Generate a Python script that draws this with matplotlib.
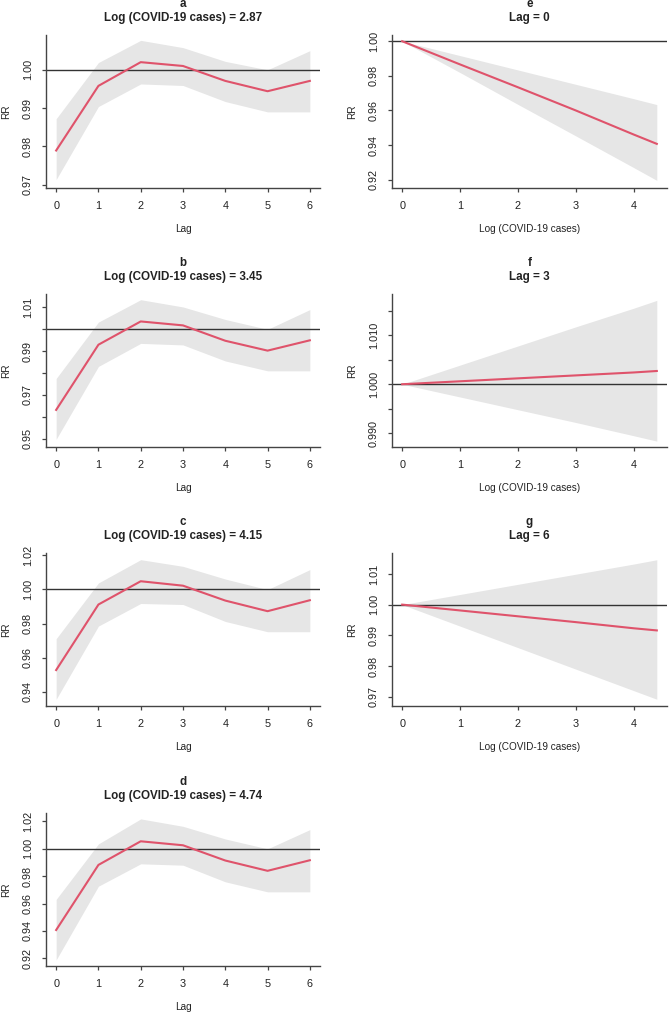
import matplotlib
matplotlib.use("Agg")
from matplotlib import pyplot as plt
import numpy as np

plt.rcParams['font.family'] = ['Liberation Sans', 'DejaVu Sans']

# ---- lag-response panels (a-d) ----
lags = [0, 1, 2, 3, 4, 5, 6]

rr_a = [0.9789, 0.9958, 1.0020, 1.0010, 0.9971, 0.9944, 0.9971]
hi_a = [0.9872, 1.0019, 1.0077, 1.0058, 1.0022, 1.0000, 1.0050]
lo_a = [0.9713, 0.9904, 0.9963, 0.9959, 0.9917, 0.9890, 0.9890]

rr_b = [0.9632, 0.9929, 1.0035, 1.0017, 0.9947, 0.9902, 0.9949]
hi_b = [0.9775, 1.0032, 1.0134, 1.0101, 1.0044, 0.9999, 1.0089]
lo_b = [0.9498, 0.9830, 0.9935, 0.9928, 0.9855, 0.9810, 0.9810]

rr_c = [0.9528, 0.9911, 1.0047, 1.0021, 0.9934, 0.9872, 0.9936]
hi_c = [0.9711, 1.0037, 1.0173, 1.0134, 1.0060, 0.9998, 1.0115]
lo_c = [0.9357, 0.9785, 0.9917, 0.9911, 0.9812, 0.9752, 0.9752]

rr_d = [0.9407, 0.9881, 1.0053, 1.0024, 0.9913, 0.9838, 0.9915]
hi_d = [0.9630, 1.0034, 1.0216, 1.0162, 1.0070, 0.9998, 1.0138]
lo_d = [0.9189, 0.9726, 0.9889, 0.9879, 0.9758, 0.9685, 0.9685]

# ---- exposure-response panels (e-g) ----
logcases = [0, 1, 2, 3, 4, 4.4]

rr_e = [1.0, 0.9866, 0.9734, 0.9600, 0.9461, 0.9407]
hi_e = [1.0, 0.9917, 0.9834, 0.9751, 0.9668, 0.9634]
lo_e = [1.0, 0.9819, 0.9635, 0.9453, 0.9270, 0.9196]

rr_f = [1.0, 1.0006, 1.0012, 1.0018, 1.0024, 1.0027]
hi_f = [1.0, 1.0039, 1.0078, 1.0117, 1.0155, 1.0171]
lo_f = [1.0, 0.9974, 0.9948, 0.9922, 0.9895, 0.9884]

rr_g = [1.0, 0.9981, 0.9962, 0.9943, 0.9923, 0.9916]
hi_g = [1.0, 1.0033, 1.0066, 1.0099, 1.0132, 1.0146]
lo_g = [1.0, 0.9930, 0.9860, 0.9790, 0.9720, 0.9692]

W, H = 670, 1015
LineCol = '#DF536B'
BandCol = '#E6E6E6'
AxCol = '#444444'
TxtCol = '#222222'

fig = plt.figure(figsize=(W/100, H/100), dpi=100)


def MakePanel(left, top, width, height, x, rr, lo, hi, letter, subtitle,
              xlabel, xlim, ylim, yticks, ylabels, xticks):
    ax = fig.add_axes([left/W, 1-(top+height)/H, width/W, height/H])
    ax.fill_between(x, lo, hi, color=BandCol, lw=0)
    ax.axhline(1.0, color='#333333', lw=1.0)
    ax.plot(x, rr, color=LineCol, lw=1.5)
    ax.set_xlim(*xlim)
    ax.set_ylim(*ylim)
    for s in ['top', 'right']:
        ax.spines[s].set_visible(False)
    for s in ['left', 'bottom']:
        ax.spines[s].set_color(AxCol)
        ax.spines[s].set_linewidth(1.0)
    ax.set_xticks(xticks)
    ax.set_yticks(yticks)
    ax.set_yticklabels(ylabels, rotation=90, va='center')
    ax.tick_params(direction='out', length=3, width=0.9, color=AxCol,
                   labelsize=7.8, labelcolor=TxtCol, pad=6.5)
    ax.set_xlabel(xlabel, fontsize=7.2, color=TxtCol)
    ax.set_ylabel('RR', fontsize=7.2, color=TxtCol)
    ax.xaxis.set_label_coords(0.5, -41/height)
    ax.xaxis.label.set_va('center')
    ax.yaxis.set_label_coords(-40/width, 0.5)
    ax.yaxis.label.set_va('center')
    ax.annotate(letter, xy=(0.5, 1), xycoords='axes fraction', xytext=(0, 31),
                textcoords='offset pixels', ha='center', va='center',
                fontsize=8.4, fontweight='bold', color=TxtCol)
    ax.annotate(subtitle, xy=(0.5, 1), xycoords='axes fraction', xytext=(0, 17),
                textcoords='offset pixels', ha='center', va='center',
                fontsize=8.4, fontweight='bold', color=TxtCol)
    return ax


LagLim = (-0.24, 6.24)
CaseLim = (-0.176, 4.576)
LeftX, RightX = 46, 392
LeftW, RightW = 274, 275
Tops = [35, 294, 553, 813]
PH = 153

MakePanel(LeftX, Tops[0], LeftW, PH, lags, rr_a, lo_a, hi_a, 'a',
          'Log (COVID-19 cases) = 2.87', 'Lag', LagLim, (0.9691, 1.0091),
          [0.97, 0.98, 0.99, 1.00], ['0.97', '0.98', '0.99', '1.00'], lags)
MakePanel(LeftX, Tops[1], LeftW, PH, lags, rr_b, lo_b, hi_b, 'b',
          'Log (COVID-19 cases) = 3.45', 'Lag', LagLim, (0.9463, 1.0160),
          [0.95, 0.96, 0.97, 0.98, 0.99, 1.00, 1.01],
          ['0.95', '', '0.97', '', '0.99', '', '1.01'], lags)
MakePanel(LeftX, Tops[2], LeftW, PH, lags, rr_c, lo_c, hi_c, 'c',
          'Log (COVID-19 cases) = 4.15', 'Lag', LagLim, (0.9318, 1.0212),
          [0.94, 0.96, 0.98, 1.00, 1.02], ['0.94', '0.96', '0.98', '1.00', '1.02'], lags)
MakePanel(LeftX, Tops[3], LeftW, PH, lags, rr_d, lo_d, hi_d, 'd',
          'Log (COVID-19 cases) = 4.74', 'Lag', LagLim, (0.9145, 1.0259),
          [0.92, 0.94, 0.96, 0.98, 1.00, 1.02],
          ['0.92', '0.94', '0.96', '0.98', '1.00', '1.02'], lags)

CaseTicks = [0, 1, 2, 3, 4]
MakePanel(RightX, Tops[0], RightW, PH, logcases, rr_e, lo_e, hi_e, 'e',
          'Lag = 0', 'Log (COVID-19 cases)', CaseLim, (0.9152, 1.0036),
          [0.92, 0.94, 0.96, 0.98, 1.00], ['0.92', '0.94', '0.96', '0.98', '1.00'], CaseTicks)
MakePanel(RightX, Tops[1], RightW, PH, logcases, rr_f, lo_f, hi_f, 'f',
          'Lag = 3', 'Log (COVID-19 cases)', CaseLim, (0.9872, 1.0184),
          [0.990, 0.995, 1.000, 1.005, 1.010, 1.015],
          ['0.990', '', '1.000', '', '1.010', ''], CaseTicks)
MakePanel(RightX, Tops[2], RightW, PH, logcases, rr_g, lo_g, hi_g, 'g',
          'Lag = 6', 'Log (COVID-19 cases)', CaseLim, (0.9670, 1.0168),
          [0.97, 0.98, 0.99, 1.00, 1.01], ['0.97', '0.98', '0.99', '1.00', '1.01'], CaseTicks)

fig.savefig('out.png', dpi=100)
